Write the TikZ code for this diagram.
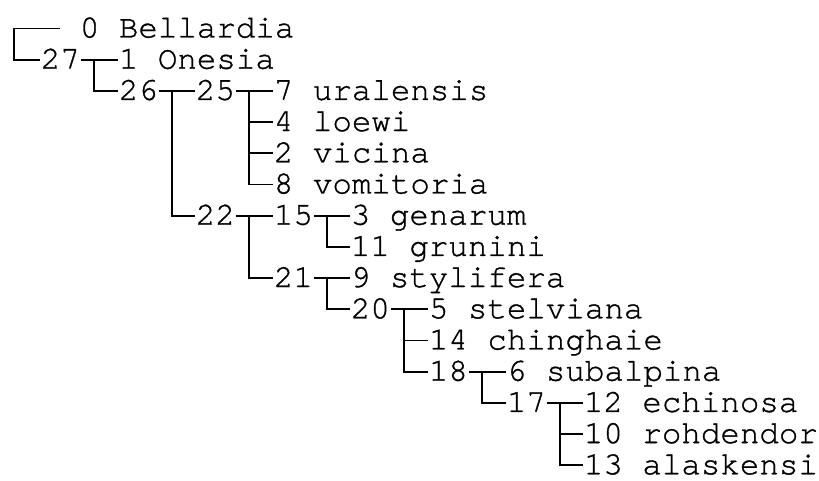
\documentclass[tikz,border=0pt]{standalone}
\usepackage{fontspec}
\newfontfamily\curfont[FakeBold=1]{texgyrecursor-regular.otf}

\begin{document}
\begin{tikzpicture}[x=1pt, y=-31.2pt, line width=1.8pt,
  lbl/.style={anchor=west, inner sep=0pt, font=\curfont\fontsize{32.5pt}{34pt}\selectfont,
    text height=22pt, text depth=4pt}]
\useasboundingbox (0,-0.913) rectangle (819,14.503);
\node[lbl] (0) at (79,0) {0 Bellardia};
\node[lbl] (27) at (40,1) {27};
\node[lbl] (1) at (118,1) {1 Onesia};
\node[lbl] (26) at (118,2) {26};
\node[lbl] (25) at (195,2) {25};
\node[lbl] (7) at (273,2) {7 uralensis};
\node[lbl] (4) at (273,3) {4 loewi};
\node[lbl] (2) at (273,4) {2 vicina};
\node[lbl] (8) at (273,5) {8 vomitoria};
\node[lbl] (22) at (195,6) {22};
\node[lbl] (15) at (273,6) {15};
\node[lbl] (3) at (350,6) {3 genarum};
\node[lbl] (11) at (350,7) {11 grunini};
\node[lbl] (21) at (273,8) {21};
\node[lbl] (9) at (350,8) {9 stylifera};
\node[lbl] (20) at (350,9) {20};
\node[lbl] (5) at (428,9) {5 stelviana};
\node[lbl] (14) at (428,10) {14 chinghaie};
\node[lbl] (18) at (428,11) {18};
\node[lbl] (6) at (506,11) {6 subalpina};
\node[lbl] (17) at (506,12) {17};
\node[lbl] (12) at (583,12) {12 echinosa};
\node[lbl] (10) at (583,13) {10 rohdendor};
\node[lbl] (13) at (583,14) {13 alaskensi};
\coordinate (root) at (14,0.5);
\draw ([xshift=-19pt]0.west) -| (root) |- (27.west);
\foreach \p/\c in {27/1, 27/26, 26/25, 26/22, 25/7, 25/4, 25/2, 25/8, 22/15, 22/21,
    15/3, 15/11, 21/9, 21/20, 20/5, 20/14, 20/18, 18/6, 18/17, 17/12, 17/10, 17/13}
  \draw (\p.east) -- ++(13pt,0) |- (\c.west);
\end{tikzpicture}
\end{document}
